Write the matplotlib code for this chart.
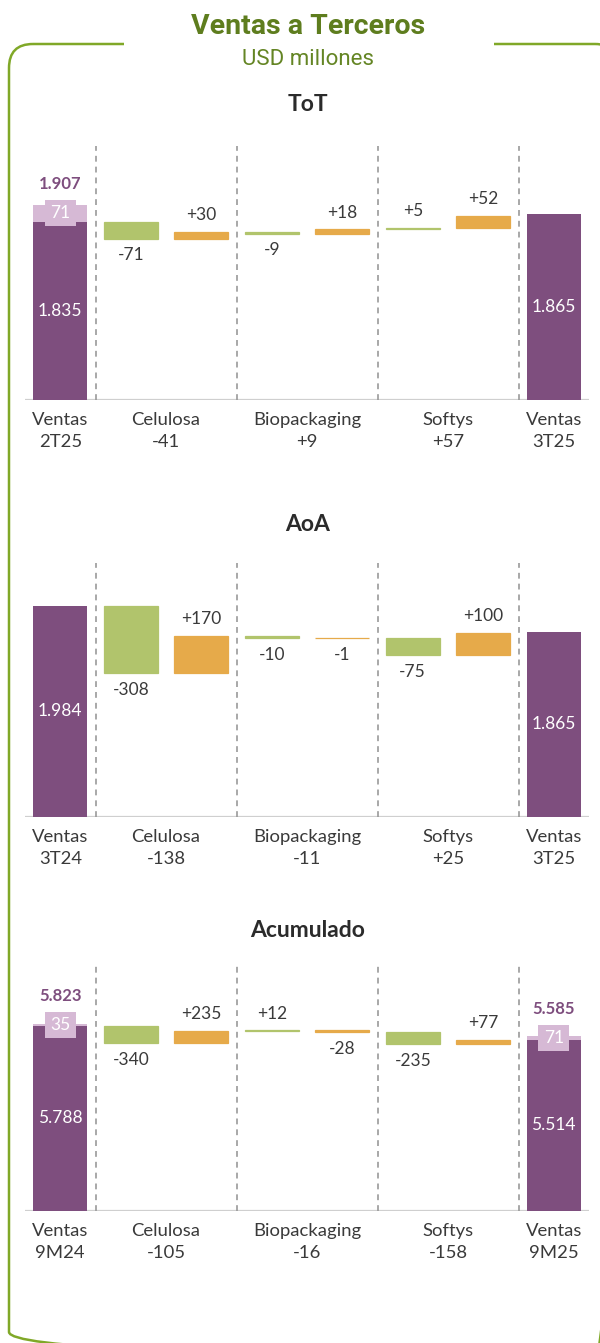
import matplotlib
matplotlib.use("Agg")
import matplotlib.pyplot as plt
from matplotlib.patches import FancyBboxPatch, Rectangle

# colours
PURPLE = "#7e4e7e"
LAVENDER = "#d6b9d5"
GREEN = "#b1c46c"
ORANGE = "#e6aa4a"
FRAME = "#80a828"
TITLE_GREEN = "#5e7d1e"
TEXT = "#3a3a3a"
DASH = "#9a9a9a"

# data (USD millones)
titles = ["ToT", "AoA", "Acumulado"]
start_names = ["Ventas\n2T25", "Ventas\n3T24", "Ventas\n9M24"]
end_names = ["Ventas\n3T25", "Ventas\n3T25", "Ventas\n9M25"]
segments = ["Celulosa", "Biopackaging", "Softys"]

start_base = [1835, 1984, 5788]
start_extra = [71, 0, 35]
start_total = [1907, None, 5823]
end_base = [1865, 1865, 5514]
end_extra = [0, 0, 71]
end_total = [None, None, 5585]

# green / orange effect per segment
price = [[-71, -9, 5], [-308, -10, -75], [-340, 12, -235]]
volume = [[30, 18, 52], [170, -1, 100], [235, -28, 77]]

W, H = 600, 1343
# panel placement in pixels (top, bottom) and axis floor / scale
panel_px = [(146, 400), (563, 817), (962, 1211)]
ymins = [1092, 1018, 2162]
px_per_unit = [0.24, 0.2185, 0.0511]
title_base = [111, 531, 937]

LABEL_FONT = "Lato"


def fmt(v):
    return f"{v:,}".replace(",", ".")


fig = plt.figure(figsize=(W / 100, H / 100), dpi=100)
fig.patch.set_facecolor("white")

# background axes in pixel coords for frame and titles
bg = fig.add_axes([0, 0, 1, 1])
bg.set_xlim(0, W)
bg.set_ylim(H, 0)
bg.axis("off")
frame = FancyBboxPatch((9, 44), 610, 1312, boxstyle="round,pad=0,rounding_size=24",
                       fill=False, edgecolor=FRAME, lw=1.8)
bg.add_patch(frame)
bg.add_patch(Rectangle((124, 38), 370, 12, facecolor="white", edgecolor="none", zorder=3))
bg.text(308, 34.5, "Ventas a Terceros", ha="center", va="baseline", fontsize=20.5,
        fontweight="bold", family="Roboto", color=TITLE_GREEN, zorder=4)
bg.text(308, 65, "USD millones", ha="center", va="baseline", fontsize=16,
        family="Roboto", color="#648524", zorder=4)

for k in range(3):
    top, bot = panel_px[k]
    y0 = ymins[k]
    ax = fig.add_axes([25 / W, 1 - bot / H, 564 / W, (bot - top) / H])
    ax.set_xlim(-0.5, 7.5)
    ax.set_ylim(y0, y0 + (bot - top) / px_per_unit[k])
    ax.axis("off")

    bg.text(308, title_base[k], titles[k], ha="center", va="baseline", fontsize=16.5,
            fontweight="bold", family=LABEL_FONT, color="#2b2b2b")

    ax.axhline(y0, color="#cfcfcf", lw=1.6, zorder=1)
    for xs in [0.5, 2.5, 4.5, 6.5]:
        ax.axvline(xs, color=DASH, lw=1.2, ls=(0, (3.5, 3)), zorder=1)

    # first and last totals
    for xi, base, extra, tot in [(0, start_base[k], start_extra[k], start_total[k]),
                                 (7, end_base[k], end_extra[k], end_total[k])]:
        ax.bar(xi, base - y0, bottom=y0, width=0.77, color=PURPLE, zorder=2)
        ax.text(xi, (y0 + base) / 2, fmt(base), ha="center", va="center", color="white",
                fontsize=12.5, family=LABEL_FONT, zorder=4)
        if extra:
            ax.bar(xi, extra, bottom=base, width=0.77, color=LAVENDER, zorder=2)
            ax.text(xi, base + extra / 2, str(extra), ha="center", va="center", color="white",
                    fontsize=12.5, family=LABEL_FONT, zorder=4,
                    bbox=dict(boxstyle="square,pad=0.3", fc=LAVENDER, ec="none"))
        if tot:
            ax.annotate(fmt(tot), xy=(xi, base + extra / 2), xytext=(0, 21),
                        textcoords="offset points", ha="center", va="center", color=PURPLE,
                        fontsize=12, fontweight="bold", family=LABEL_FONT, zorder=4)

    # waterfall steps
    level = start_base[k]
    for j in range(3):
        for val, col, xi in [(price[k][j], GREEN, 1 + 2 * j), (volume[k][j], ORANGE, 2 + 2 * j)]:
            ax.bar(xi, val, bottom=level, width=0.77, color=col, edgecolor=col, lw=0.9, zorder=2)
            end = level + val
            off = 12 if val >= 0 else -12
            ax.annotate(f"{val:+d}" if val >= 0 else str(val), xy=(xi, end), xytext=(0, off),
                        textcoords="offset points", ha="center", va="center", color=TEXT,
                        fontsize=12.5, family=LABEL_FONT, zorder=4)
            level = end

    # category labels under the baseline
    cats = [start_names[k]]
    for j in range(3):
        cats.append(f"{segments[j]}\n{price[k][j] + volume[k][j]:+d}")
    cats.append(end_names[k])
    for xc, lbl in zip([0, 1.5, 3.5, 5.5, 7], cats):
        ax.annotate(lbl, xy=(xc, 0), xycoords=("data", "axes fraction"), xytext=(0, -8.5),
                    textcoords="offset points", ha="center", va="top", fontsize=13.3,
                    linespacing=1.5, family=LABEL_FONT, color=TEXT)

fig.savefig("out.png", dpi=100, facecolor="white")
